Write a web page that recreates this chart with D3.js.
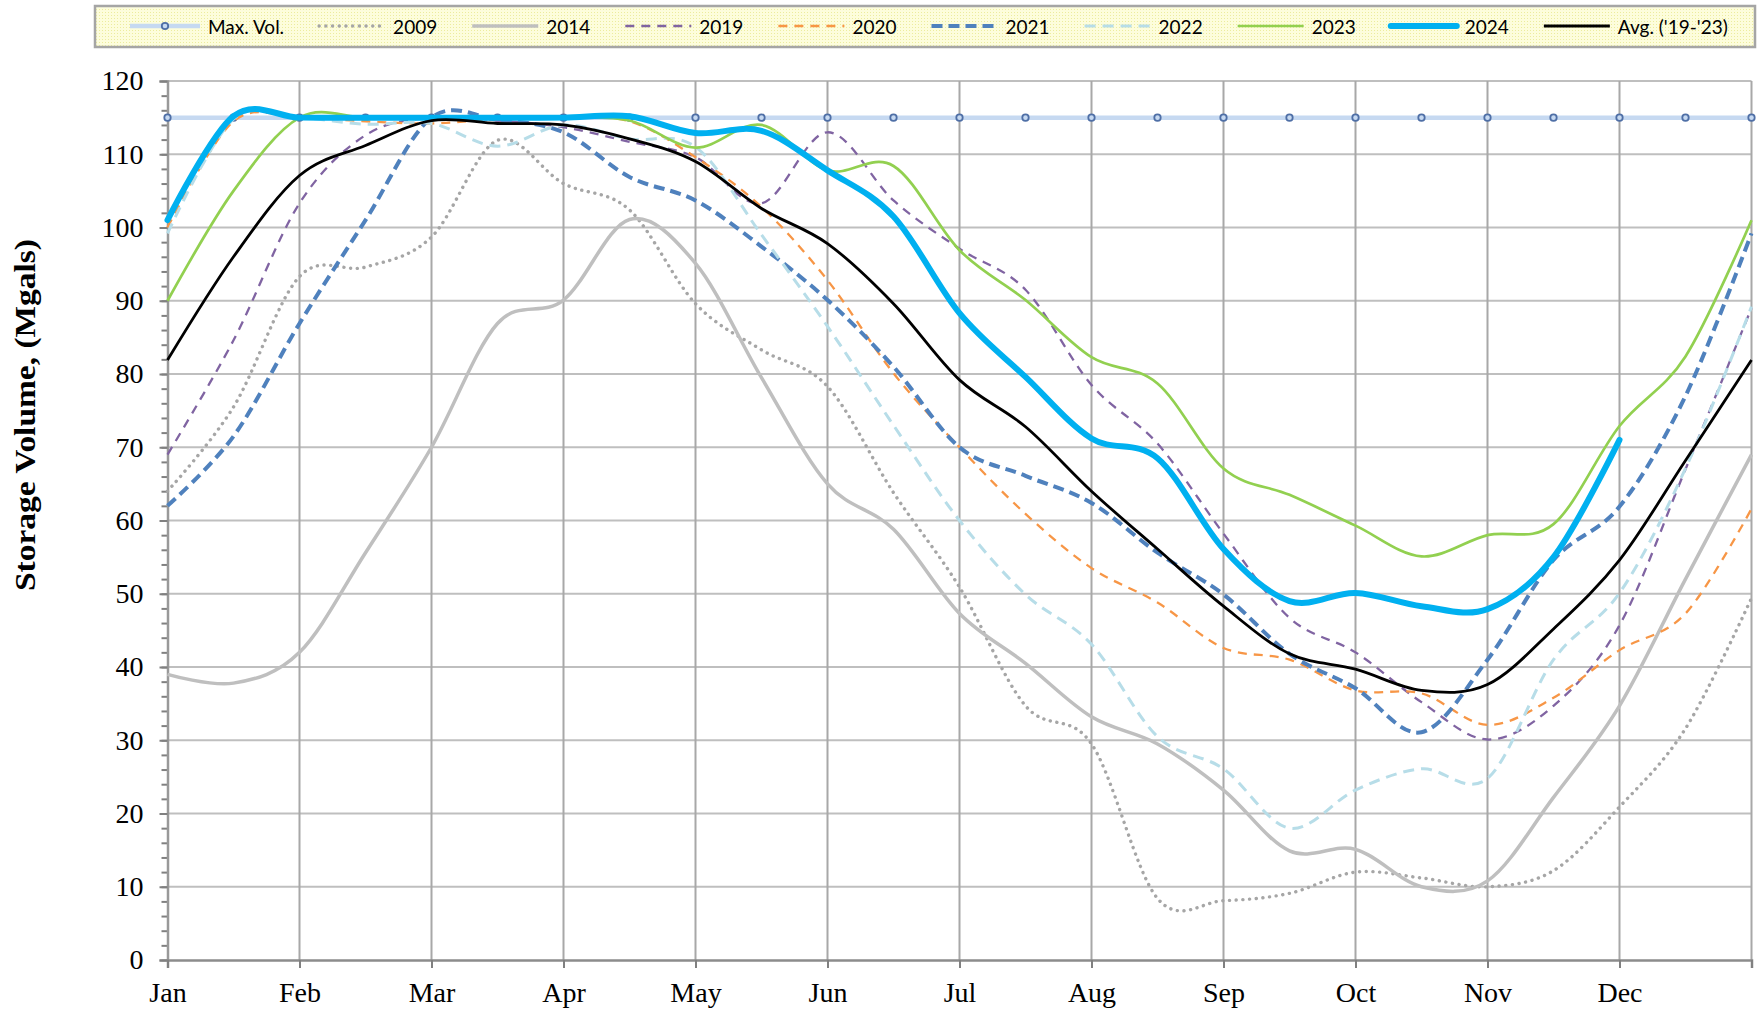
<!DOCTYPE html>
<html lang="en">

<head>
  <meta charset="UTF-8">
  <title>Storage Volume</title>
  <script src="https://d3js.org/d3.v7.min.js"></script>
  <style>
    body {
      margin: 0;
      background: #fff;
    }

    .tick text {
      font-family: "Liberation Serif", serif;
      font-size: 28px;
      fill: #000;
    }

    .legend text {
      font-family: Lato, "Liberation Sans", sans-serif;
      font-size: 19px;
      fill: #000;
    }
  </style>
</head>

<body>
  <div id="chart"></div>

  <script>
    // x positions are half-month steps, 0 = Jan 1, 12 = end of Dec
    const halfMonths = [0, 0.5, 1, 1.5, 2, 2.5, 3, 3.5, 4, 4.5, 5, 5.5, 6, 6.5, 7, 7.5, 8, 8.5, 9, 9.5, 10, 10.5, 11, 11.5, 12];
    const monthLabels = ["Jan", "Feb", "Mar", "Apr", "May", "Jun", "Jul", "Aug", "Sep", "Oct", "Nov", "Dec", ""];
    const yTicks = [0, 10, 20, 30, 40, 50, 60, 70, 80, 90, 100, 110, 120];

    const maxVol = [115, 115, 115, 115, 115, 115, 115, 115, 115, 115, 115, 115, 115, 115, 115, 115, 115, 115, 115, 115, 115, 115, 115, 115, 115];
    const y2009 = [64, 75.5, 93.3, 94.6, 98.7, 111.9, 106, 102.4, 89.6, 83.3, 78.3, 63.8, 50.9, 34.7, 29.5, 8.4, 8.1, 9.1, 12, 11.2, 10, 12.2, 20.9, 31.6, 49.4];
    const y2014 = [39, 37.8, 42, 55.6, 70, 86.9, 90.1, 101.1, 95.1, 79.5, 65, 58.8, 47.3, 40.5, 33.2, 29.5, 23.2, 14.9, 15.1, 10, 10.8, 22.2, 34.7, 52, 69];
    const y2019 = [69, 84.6, 103.3, 112.6, 115, 114.6, 113.7, 111.7, 109.6, 103.3, 113, 103.7, 97.1, 91.5, 78.5, 70.5, 58.2, 46.7, 42, 35.2, 30.1, 34.7, 45.7, 67, 89];
    const y2020 = [100, 114.5, 115, 114.5, 114.2, 114.8, 115, 114.5, 109.6, 102.8, 92.8, 80.1, 70, 60.9, 53.5, 48.8, 42.6, 41, 36.8, 36.4, 32.1, 35.8, 42.3, 47.3, 61.6];
    const y2021 = [62, 71.5, 86.9, 101, 115, 114.7, 113, 106.9, 103.7, 97.4, 90.1, 81, 70, 66.1, 62.4, 55.6, 49.9, 41.8, 37.1, 31.1, 41, 54.6, 61.9, 77, 99.2];
    const y2022 = [99.2, 114.8, 115, 114.1, 114.2, 111.1, 114, 112.1, 111, 99, 86.5, 73, 60, 49.9, 43.1, 30.5, 26.1, 18, 23.2, 26.1, 24.8, 41, 50.1, 67.1, 89.2];
    const y2023 = [90, 105, 115, 115, 115, 115, 115, 114.6, 110.9, 114, 107.8, 108.4, 96.9, 90.1, 82.3, 78.7, 67.1, 63.5, 59.3, 55.1, 58, 59.5, 72.9, 82.4, 101];
    const y2024 = [101, 115.2, 115, 115, 115, 115, 115, 115.2, 112.9, 113.2, 107.8, 101.5, 88.3, 79.6, 71.2, 68.5, 56.1, 49, 50.1, 48.3, 47.9, 55, 71, null, null];
    const avg = [81.9, 96, 107.1, 111.2, 114.6, 114.2, 114, 112.1, 109, 102.6, 97.8, 89.6, 79.2, 72.8, 64, 56.1, 48.3, 41.8, 39.7, 36.8, 37.6, 45.2, 54.6, 68.2, 81.9];

    const series = [
      { name: "Max. Vol.", values: maxVol, color: "#c6d9f1", width: 4.5, dash: null, markers: true },
      { name: "2009", values: y2009, color: "#a6a6a6", width: 3.4, dash: "0.1 6.6", cap: "round" },
      { name: "2014", values: y2014, color: "#bfbfbf", width: 3.5, dash: null },
      { name: "2019", values: y2019, color: "#8064a2", width: 2.3, dash: "9 7" },
      { name: "2020", values: y2020, color: "#f79646", width: 2.3, dash: "9 7" },
      { name: "2021", values: y2021, color: "#4f81bd", width: 4, dash: "11 6" },
      { name: "2022", values: y2022, color: "#b7dde8", width: 3, dash: "11 7" },
      { name: "2023", values: y2023, color: "#92d050", width: 2.7, dash: null },
      { name: "2024", values: y2024, color: "#00b0f0", width: 6, dash: null, cap: "round" },
      { name: "Avg. ('19-'23)", values: avg, color: "#000000", width: 2.8, dash: null }
    ];

    const W = 1758, H = 1012;
    const plot = { left: 167.5, right: 1751.5, top: 81, bottom: 960 };

    const svg = d3.select("#chart").append("svg")
      .attr("width", W)
      .attr("height", H);

    const x = d3.scaleLinear().domain([0, 12]).range([plot.left, plot.right]);
    const y = d3.scaleLinear().domain([0, 120]).range([plot.bottom, plot.top]);

    // gridlines
    svg.append("g")
      .selectAll("line")
      .data(yTicks.filter(d => d > 0))
      .join("line")
      .attr("x1", plot.left).attr("x2", plot.right)
      .attr("y1", d => y(d)).attr("y2", d => y(d))
      .attr("stroke", "#bfbfbf").attr("stroke-width", 2);

    svg.append("g")
      .selectAll("line")
      .data(d3.range(1, 13))
      .join("line")
      .attr("x1", d => x(d)).attr("x2", d => x(d))
      .attr("y1", plot.top).attr("y2", plot.bottom)
      .attr("stroke", "#a8a8a8").attr("stroke-width", 2);

    // axes
    const yMinor = svg.append("g")
      .attr("transform", `translate(${plot.left},0)`)
      .call(d3.axisLeft(y).tickValues(d3.range(0, 121, 2)).tickSize(6).tickFormat(""));
    yMinor.select(".domain").remove();

    const yAxis = svg.append("g")
      .attr("transform", `translate(${plot.left},0)`)
      .call(d3.axisLeft(y).tickValues(yTicks).tickSize(8).tickPadding(16));

    const xAxis = svg.append("g")
      .attr("transform", `translate(0,${plot.bottom})`)
      .call(d3.axisBottom(x).tickValues(d3.range(0, 13)).tickSize(8).tickPadding(14)
        .tickFormat(d => monthLabels[d]));

    [yMinor, yAxis, xAxis].forEach(g => {
      g.selectAll(".tick line").attr("stroke", "#808080").attr("stroke-width", 2);
    });
    yAxis.select(".domain").attr("stroke", "#999").attr("stroke-width", 2.5);
    xAxis.select(".domain").attr("stroke", "#8c8c8c").attr("stroke-width", 2.5);

    svg.append("text")
      .attr("transform", "translate(35,415) rotate(-90)")
      .attr("text-anchor", "middle")
      .attr("font-family", "'Liberation Serif', serif")
      .attr("font-weight", "bold")
      .attr("font-size", "30px")
      .attr("textLength", 352)
      .attr("lengthAdjust", "spacingAndGlyphs")
      .text("Storage Volume, (Mgals)");

    // series
    const line = d3.line()
      .defined(d => d[1] !== null)
      .x(d => x(d[0]))
      .y(d => y(d[1]))
      .curve(d3.curveCardinal.tension(0));

    series.forEach(s => {
      const pts = halfMonths.map((m, i) => [m, s.values[i]]);
      svg.append("path")
        .datum(pts)
        .attr("fill", "none")
        .attr("stroke", s.color)
        .attr("stroke-width", s.width)
        .attr("stroke-dasharray", s.dash)
        .attr("stroke-linecap", s.cap || "butt")
        .attr("stroke-linejoin", "round")
        .attr("d", line);
      if (s.markers) {
        svg.append("g")
          .selectAll("circle")
          .data(pts)
          .join("circle")
          .attr("cx", d => x(d[0]))
          .attr("cy", d => y(d[1]))
          .attr("r", 3.2)
          .attr("fill", "#c6d9f1")
          .attr("stroke", "#4f6fa6")
          .attr("stroke-width", 1.8);
      }
    });

    // legend
    const defs = svg.append("defs");
    const pat = defs.append("pattern")
      .attr("id", "dots")
      .attr("width", 3).attr("height", 3)
      .attr("patternUnits", "userSpaceOnUse");
    pat.append("rect").attr("width", 3).attr("height", 3).attr("fill", "#fdfddc");
    pat.append("rect").attr("width", 1).attr("height", 1).attr("fill", "#ecec9e");

    const legend = svg.append("g").attr("class", "legend");
    legend.append("rect")
      .attr("x", 95).attr("y", 6)
      .attr("width", 1660).attr("height", 41)
      .attr("fill", "url(#dots)")
      .attr("stroke", "#a5a5a5")
      .attr("stroke-width", 2.5);

    let lx = 130;
    const ly = 26;
    series.forEach(s => {
      const len = s.markers ? 70 : 66;
      legend.append("line")
        .attr("x1", lx).attr("x2", lx + len)
        .attr("y1", ly).attr("y2", ly)
        .attr("stroke", s.color)
        .attr("stroke-width", s.width)
        .attr("stroke-dasharray", s.dash)
        .attr("stroke-linecap", s.cap || "butt");
      if (s.markers) {
        legend.append("circle")
          .attr("cx", lx + len / 2).attr("cy", ly).attr("r", 3.2)
          .attr("fill", "#c6d9f1").attr("stroke", "#4f6fa6").attr("stroke-width", 1.8);
      }
      const t = legend.append("text")
        .attr("x", lx + len + 8)
        .attr("y", ly)
        .attr("dominant-baseline", "central")
        .text(s.name);
      lx += len + 8 + t.node().getComputedTextLength() + 35;
    });
  </script>
</body>

</html>
